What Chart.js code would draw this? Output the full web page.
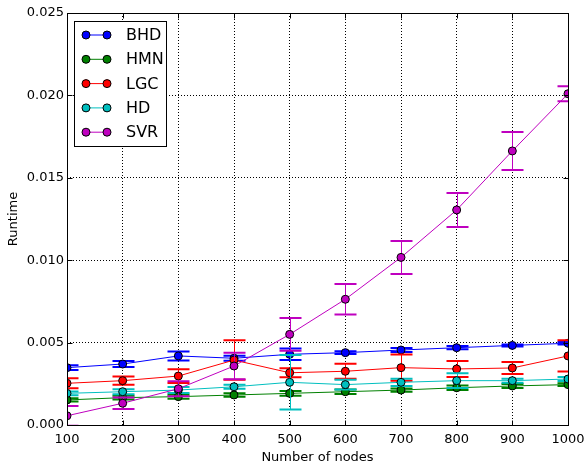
<!DOCTYPE html>
<html lang="en">
  <head>
    <meta charset="UTF-8" />
    <title>Runtime vs number of nodes</title>
    <script src="https://cdn.jsdelivr.net/npm/chart.js"></script>
    <style>
      html, body { margin: 0; padding: 0; background: #fff; }
      #wrap { width: 585px; height: 466px; }
    </style>
  </head>
  <body>
    <div id="wrap"><canvas id="runtimeChart" width="585" height="466"></canvas></div>
    <script>
      const nodes = [100, 200, 300, 400, 500, 600, 700, 800, 900, 1000];
      const yTicks = [0, 0.005, 0.01, 0.015, 0.02, 0.025];

      const bhd = [0.00348, 0.0037, 0.00419, 0.00405, 0.00429, 0.00439, 0.00455, 0.00469, 0.00483, 0.00496];
      const bhdErr = [0.00014, 0.00018, 0.00027, 0.00015, 0.00035, 0.00008, 0.00012, 0.0001, 0.00006, 0.00008];
      const hmn = [0.00152, 0.00166, 0.00172, 0.00182, 0.00192, 0.00202, 0.00212, 0.00226, 0.00237, 0.00245];
      const hmnErr = [0.0001, 0.00012, 0.00012, 0.0001, 0.00014, 0.00014, 0.0001, 0.00014, 0.00012, 0.00008];
      const lgc = [0.00253, 0.00269, 0.00297, 0.00394, 0.00317, 0.00326, 0.00348, 0.0034, 0.00346, 0.00419];
      const lgcErr = [0.0003, 0.00025, 0.00042, 0.0012, 0.00027, 0.00045, 0.0008, 0.00048, 0.00037, 0.00095];
      const hd = [0.00192, 0.00202, 0.00212, 0.00232, 0.00259, 0.00245, 0.00259, 0.00269, 0.00269, 0.00279];
      const hdErr = [0.00012, 0.00015, 0.00018, 0.00012, 0.00165, 0.0003, 0.00022, 0.00045, 0.00012, 0.00012];
      const svr = [0.00056, 0.00132, 0.0022, 0.00358, 0.0055, 0.00763, 0.01017, 0.01305, 0.01663, 0.0201];
      const svrErr = [0.0006, 0.00035, 0.00045, 0.0008, 0.001, 0.00093, 0.001, 0.00103, 0.00115, 0.00045];

      const seriesNames = ["BHD", "HMN", "LGC", "HD", "SVR"];
      const seriesValues = [bhd, hmn, lgc, hd, svr];
      const seriesErrors = [bhdErr, hmnErr, lgcErr, hdErr, svrErr];
      const seriesColors = ["#0000ff", "#008000", "#ff0000", "#00bfbf", "#bf00bf"];

      const FONT = "'DejaVu Sans', sans-serif";

      // error bars for one dataset, drawn just before its line and markers
      const errorBars = {
        id: "errorBars",
        beforeDatasetDraw(chart, args) {
          const i = args.index;
          const xs = chart.scales.x;
          const ys = chart.scales.y;
          const area = chart.chartArea;
          const ctx = chart.ctx;
          ctx.save();
          ctx.beginPath();
          ctx.rect(area.left, area.top, area.right - area.left, area.bottom - area.top);
          ctx.clip();
          ctx.strokeStyle = seriesColors[i];
          seriesValues[i].forEach((v, k) => {
            const e = seriesErrors[i][k];
            const px = Math.round(xs.getPixelForValue(nodes[k])) + 0.5;
            const top = ys.getPixelForValue(v + e);
            const bot = ys.getPixelForValue(v - e);
            ctx.lineWidth = 1;
            ctx.beginPath();
            ctx.moveTo(px, top);
            ctx.lineTo(px, bot);
            ctx.stroke();
            ctx.lineWidth = 2;
            ctx.beginPath();
            ctx.moveTo(px - 11, top);
            ctx.lineTo(px + 11, top);
            ctx.moveTo(px - 11, bot);
            ctx.lineTo(px + 11, bot);
            ctx.stroke();
          });
          ctx.restore();
        },
      };

      // frame, inward ticks on all sides, legend box
      const frame = {
        id: "frame",
        afterDraw(chart) {
          const ctx = chart.ctx;
          const a = chart.chartArea;
          const xs = chart.scales.x;
          const ys = chart.scales.y;
          const L = Math.round(a.left) + 0.5, R = Math.round(a.right) + 0.5;
          const T = Math.round(a.top) + 0.5, B = Math.round(a.bottom) + 0.5;
          ctx.save();
          ctx.strokeStyle = "#000";
          ctx.lineWidth = 1;
          ctx.beginPath();
          nodes.forEach((n) => {
            const px = Math.round(xs.getPixelForValue(n)) + 0.5;
            ctx.moveTo(px, B); ctx.lineTo(px, B - 5);
            ctx.moveTo(px, T); ctx.lineTo(px, T + 5);
          });
          yTicks.forEach((t) => {
            const py = Math.round(ys.getPixelForValue(t)) + 0.5;
            ctx.moveTo(L, py); ctx.lineTo(L + 5, py);
            ctx.moveTo(R, py); ctx.lineTo(R - 5, py);
          });
          ctx.stroke();
          ctx.strokeRect(L, T, R - L, B - T);

          // legend
          const bx = 74.5, by = 21.5, bw = 92, bh = 125;
          ctx.fillStyle = "#fff";
          ctx.fillRect(bx, by, bw, bh);
          ctx.strokeRect(bx, by, bw, bh);
          ctx.font = "16px " + FONT;
          ctx.textBaseline = "middle";
          seriesNames.forEach((name, i) => {
            const cy = 35 + i * 24.3;
            ctx.strokeStyle = seriesColors[i];
            ctx.lineWidth = 1;
            ctx.beginPath();
            ctx.moveTo(86, cy); ctx.lineTo(107, cy);
            ctx.stroke();
            [86, 107].forEach((mx) => {
              ctx.beginPath();
              ctx.arc(mx, cy, 4, 0, Math.PI * 2);
              ctx.fillStyle = seriesColors[i];
              ctx.fill();
              ctx.strokeStyle = "#000";
              ctx.stroke();
            });
            ctx.fillStyle = "#000";
            ctx.fillText(name, 126, cy + 1);
          });
          ctx.restore();
        },
      };

      const datasets = seriesNames.map((name, i) => ({
        label: name,
        data: nodes.map((n, k) => ({ x: n, y: seriesValues[i][k] })),
        borderColor: seriesColors[i],
        borderWidth: 1,
        pointRadius: 4,
        pointBackgroundColor: seriesColors[i],
        pointBorderColor: "#000",
        pointBorderWidth: 1,
        tension: 0,
        fill: false,
        order: seriesNames.length - i,
      }));

      const ctx = document.getElementById("runtimeChart").getContext("2d");
      new Chart(ctx, {
        type: "line",
        data: { datasets: datasets },
        plugins: [errorBars, frame],
        options: {
          responsive: false,
          animation: false,
          layout: { padding: { top: 13, right: 17, left: 6, bottom: 0 } },
          plugins: { legend: { display: false }, tooltip: { enabled: false } },
          scales: {
            x: {
              type: "linear",
              min: 100,
              max: 1000,
              afterFit(scale) {
                scale.height = 41;
                scale.paddingLeft = 0;
                scale.paddingRight = 0;
              },
              afterBuildTicks(scale) { scale.ticks = nodes.map((v) => ({ value: v })); },
              ticks: { font: { family: FONT, size: 13 }, color: "#000", padding: 7, maxRotation: 0, callback: (v) => String(v) },
              grid: { color: "#000", lineWidth: 1, drawTicks: false },
              border: { display: false, dash: [1, 2] },
              title: { display: true, text: "Number of nodes", font: { family: FONT, size: 13 }, color: "#000", padding: { top: 0, bottom: 1 } },
            },
            y: {
              min: 0,
              max: 0.025,
              afterFit(scale) {
                scale.width = 61;
                scale.paddingTop = 0;
                scale.paddingBottom = 0;
              },
              afterBuildTicks(scale) { scale.ticks = yTicks.map((v) => ({ value: v })); },
              ticks: { font: { family: FONT, size: 13 }, color: "#000", padding: 3, callback: (v) => v.toFixed(3) },
              grid: { color: "#000", lineWidth: 1, drawTicks: false },
              border: { display: false, dash: [1, 2] },
              title: { display: true, text: "Runtime", font: { family: FONT, size: 13 }, color: "#000", padding: { top: 0, bottom: 4 } },
            },
          },
        },
      });
    </script>
  </body>
</html>
